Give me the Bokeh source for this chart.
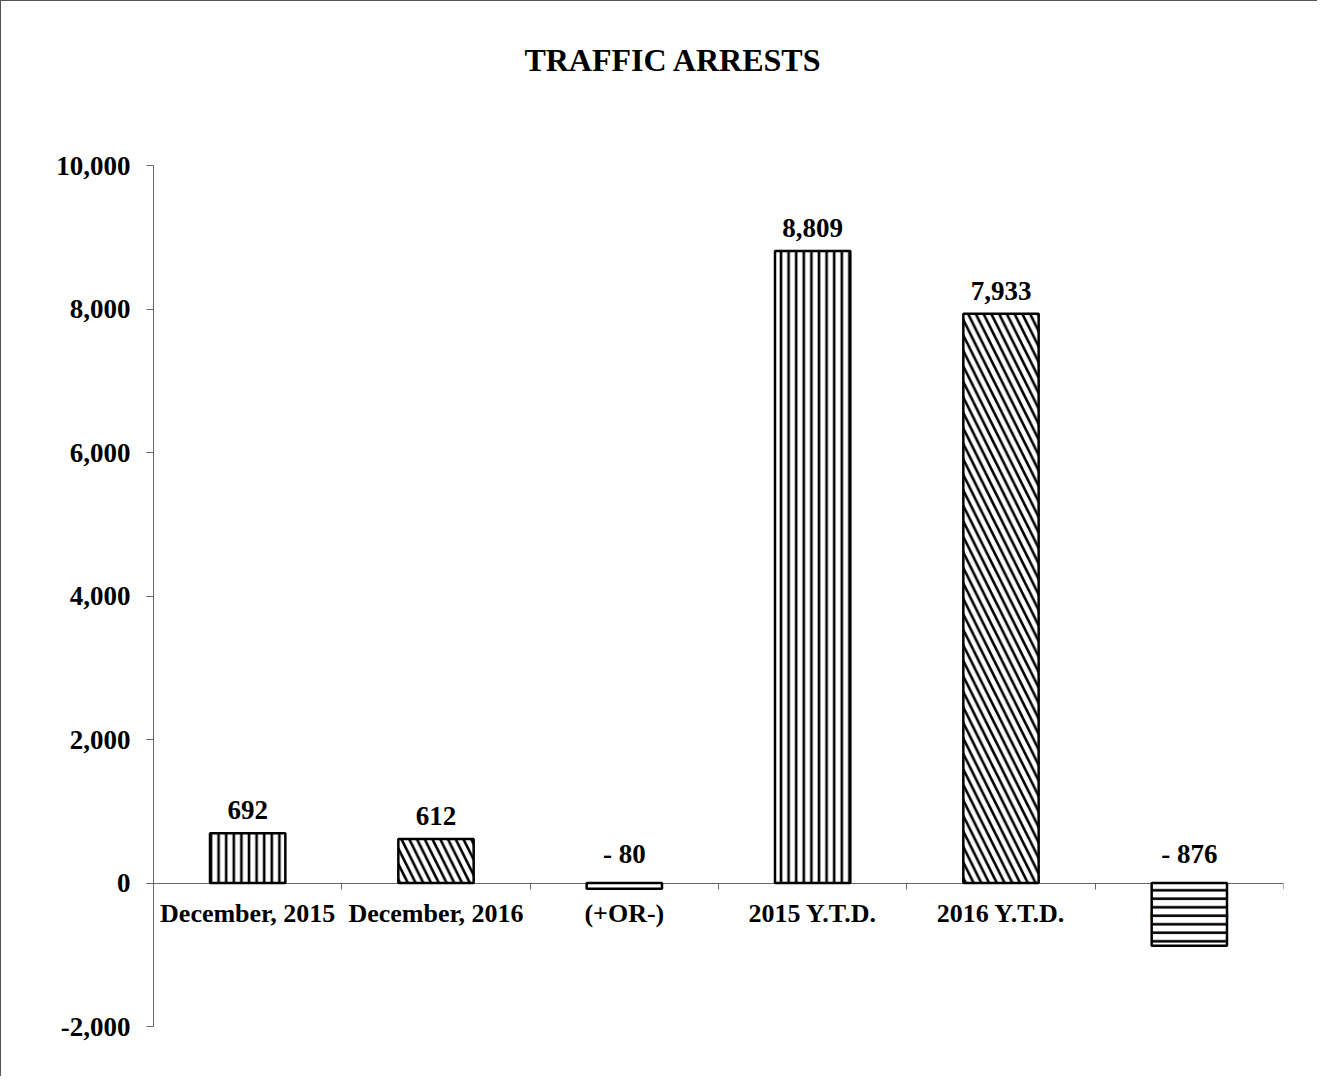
from bokeh.plotting import figure
from bokeh.models import (FixedTicker, LinearAxis, Range1d, ColumnDataSource,
                          NumeralTickFormatter)
from bokeh.core.properties import value
from bokeh.embed import file_html
from bokeh.resources import INLINE

title_text = "TRAFFIC ARRESTS"
categories = ["December, 2015", "December, 2016", "(+OR-)", "2015 Y.T.D.", "2016 Y.T.D.", "(+OR-)"]
values = [692, 612, -80, 8809, 7933, -876]
value_labels = ["692", "612", "- 80", "8,809", "7,933", "- 876"]
kinds = ["prev", "curr", "diff", "prev", "curr", "diff"]
y_ticks = [-2000, 0, 2000, 4000, 6000, 8000, 10000]

pattern_of = {"prev": "vertical_line", "curr": "left_diagonal_line", "diff": "horizontal_line"}
scale_of = {"prev": 7.6, "curr": 15.5, "diff": 8.5}

n = len(categories)
xs = [i + 0.5 for i in range(n)]
label_y = [max(v, 0) for v in values]
y_min, y_max = min(y_ticks), max(y_ticks)

FONT = "Liberation Serif"

# layout in pixels
W, H = 1317, 1076
axis_px = 861          # pixel height of the -2,000 .. 10,000 axis
top_px = 164           # space above the 10,000 tick (holds the title)
bottom_px = 51
units_per_px = (y_max - y_min) / axis_px
y_end = y_max + top_px * units_per_px

p = figure(width=W, height=H, output_backend="svg", toolbar_location=None,
           x_range=Range1d(0, n), y_range=Range1d(y_min, y_end),
           x_axis_location=None, y_axis_location=None,
           min_border_left=152, min_border_right=35, min_border_top=0,
           min_border_bottom=bottom_px)
p.outline_line_color = None
p.xgrid.visible = False
p.ygrid.visible = False
p.background_fill_color = "white"
p.border_fill_color = "white"
p.styles = {"border-top": "1px solid #555", "border-left": "1px solid #555"}

yaxis = LinearAxis(ticker=FixedTicker(ticks=y_ticks, minor_ticks=[]),
                   formatter=NumeralTickFormatter(format="0,0"),
                   bounds=(y_min, y_max))
yaxis.major_label_text_font = FONT
yaxis.major_label_text_font_style = "bold"
yaxis.major_label_text_font_size = "27px"
yaxis.major_label_text_color = "black"
yaxis.major_tick_in = 0
yaxis.major_tick_out = 7
yaxis.major_label_standoff = 16
yaxis.axis_line_color = "#666"
yaxis.major_tick_line_color = "#666"
p.add_layout(yaxis, "left")

xaxis = LinearAxis(fixed_location=0,
                   ticker=FixedTicker(ticks=xs, minor_ticks=list(range(1, n + 1))),
                   major_label_overrides={x: c for x, c in zip(xs, categories)})
xaxis.major_label_text_font = FONT
xaxis.major_label_text_font_style = "bold"
xaxis.major_label_text_font_size = "26px"
xaxis.major_label_text_color = "black"
xaxis.major_tick_line_color = None
xaxis.major_tick_in = 0
xaxis.major_tick_out = 0
xaxis.minor_tick_in = 0
xaxis.minor_tick_out = 6
xaxis.minor_tick_line_color = "#666"
xaxis.axis_line_color = "#666"
xaxis.major_label_standoff = 10
p.add_layout(xaxis, "below")

src = ColumnDataSource(dict(x=xs, top=values,
                            pattern=[pattern_of[k] for k in kinds],
                            hscale=[scale_of[k] for k in kinds],
                            ly=label_y, lbl=value_labels))

p.vbar(x="x", top="top", bottom=0, width=0.4, source=src,
       fill_color="white", line_color="black", line_width=2.5,
       hatch_pattern="pattern", hatch_color="black", hatch_weight=2.6, hatch_scale="hscale",
       level="overlay")

p.text(x="x", y="ly", text="lbl", source=src, text_align="center", text_baseline="bottom",
       y_offset=-14, text_font=value(FONT), text_font_style="bold", text_font_size="27px",
       text_color="black")

# chart title, centred 106 px above the top tick
p.text(x=[2.76], y=[y_max + 106 * units_per_px], text=[title_text],
       text_align="center", text_baseline="middle",
       text_font=value(FONT), text_font_style="bold", text_font_size="32px",
       text_color="black")

open("out.html", "w").write(file_html(p, INLINE))
